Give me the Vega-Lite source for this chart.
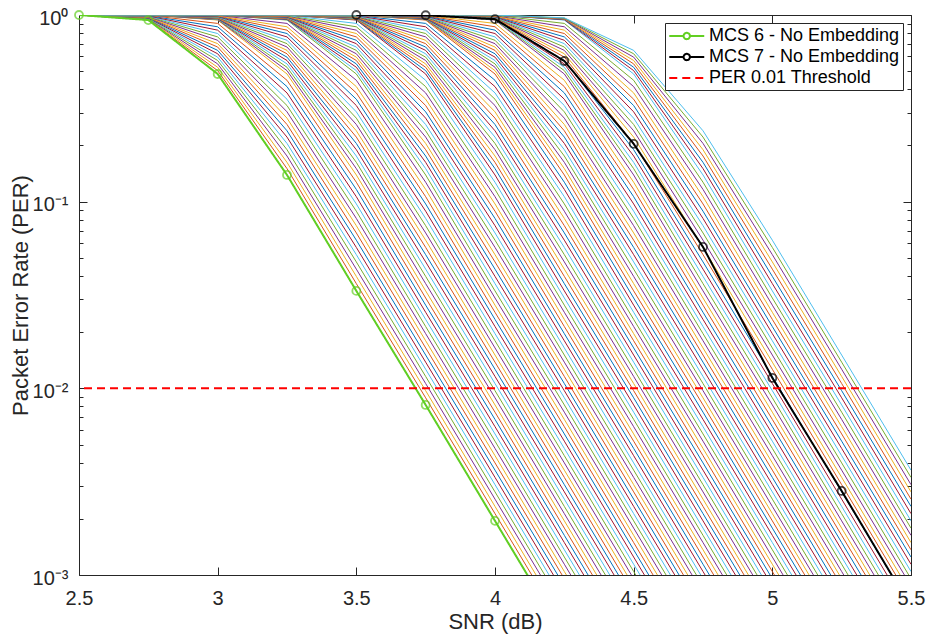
{
"$schema":"https://vega.github.io/schema/vega-lite/v6.json",
"width":832,"height":560,
"autosize":{"type":"none"},
"padding":{"left":79,"top":15,"right":17,"bottom":63},
"background":"#ffffff",
"config":{"view":{"stroke":null},"font":"Liberation Sans","axis":{"grid":false}},
"datasets":{
"fam":[
{"k":0,"x":2.5,"y":1},{"k":0,"x":2.75,"y":0.9397},{"k":0,"x":3,"y":0.4831},{"k":0,"x":3.25,"y":0.139},{"k":0,"x":3.5,"y":0.03327},{"k":0,"x":3.75,"y":0.008147},{"k":0,"x":4,"y":0.00195},{"k":0,"x":4.25,"y":0.0004677},
{"k":1,"x":2.5,"y":1},{"k":1,"x":2.75,"y":0.9434},{"k":1,"x":3,"y":0.5036},{"k":1,"x":3.25,"y":0.1503},{"k":1,"x":3.5,"y":0.03638},{"k":1,"x":3.75,"y":0.008895},{"k":1,"x":4,"y":0.002132},{"k":1,"x":4.25,"y":0.0005114},
{"k":2,"x":2.5,"y":1},{"k":2,"x":2.75,"y":0.9471},{"k":2,"x":3,"y":0.5249},{"k":2,"x":3.25,"y":0.1624},{"k":2,"x":3.5,"y":0.03978},{"k":2,"x":3.75,"y":0.009713},{"k":2,"x":4,"y":0.002331},{"k":2,"x":4.25,"y":0.0005591},
{"k":3,"x":2.5,"y":1},{"k":3,"x":2.75,"y":0.9508},{"k":3,"x":3,"y":0.5472},{"k":3,"x":3.25,"y":0.1756},{"k":3,"x":3.5,"y":0.0435},{"k":3,"x":3.75,"y":0.01061},{"k":3,"x":4,"y":0.002549},{"k":3,"x":4.25,"y":0.0006113},
{"k":4,"x":2.5,"y":1},{"k":4,"x":2.75,"y":0.9545},{"k":4,"x":3,"y":0.5705},{"k":4,"x":3.25,"y":0.1898},{"k":4,"x":3.5,"y":0.04756},{"k":4,"x":3.75,"y":0.01158},{"k":4,"x":4,"y":0.002788},{"k":4,"x":4.25,"y":0.0006683},
{"k":5,"x":2.5,"y":1},{"k":5,"x":2.75,"y":0.9582},{"k":5,"x":3,"y":0.5947},{"k":5,"x":3.25,"y":0.2051},{"k":5,"x":3.5,"y":0.05201},{"k":5,"x":3.75,"y":0.01265},{"k":5,"x":4,"y":0.003048},{"k":5,"x":4.25,"y":0.0007307},
{"k":6,"x":2.5,"y":1},{"k":6,"x":2.75,"y":0.9619},{"k":6,"x":3,"y":0.62},{"k":6,"x":3.25,"y":0.2218},{"k":6,"x":3.5,"y":0.05687},{"k":6,"x":3.75,"y":0.01381},{"k":6,"x":4,"y":0.003333},{"k":6,"x":4.25,"y":0.0007989},
{"k":7,"x":2.5,"y":1},{"k":7,"x":2.75,"y":0.9657},{"k":7,"x":3,"y":0.6463},{"k":7,"x":3.25,"y":0.2397},{"k":7,"x":3.5,"y":0.06219},{"k":7,"x":3.75,"y":0.01508},{"k":7,"x":4,"y":0.003645},{"k":7,"x":4.25,"y":0.0008735},
{"k":8,"x":2.5,"y":1},{"k":8,"x":2.75,"y":0.9694},{"k":8,"x":3,"y":0.6737},{"k":8,"x":3.25,"y":0.2591},{"k":8,"x":3.5,"y":0.068},{"k":8,"x":3.75,"y":0.01646},{"k":8,"x":4,"y":0.003986},{"k":8,"x":4.25,"y":0.000955},
{"k":9,"x":2.5,"y":1},{"k":9,"x":2.75,"y":0.9732},{"k":9,"x":3,"y":0.7023},{"k":9,"x":3.25,"y":0.2801},{"k":9,"x":3.5,"y":0.07436},{"k":9,"x":3.75,"y":0.01798},{"k":9,"x":4,"y":0.004358},{"k":9,"x":4.25,"y":0.001044},{"k":9,"x":4.5,"y":0.0002505},
{"k":10,"x":2.5,"y":1},{"k":10,"x":2.75,"y":0.977},{"k":10,"x":3,"y":0.7322},{"k":10,"x":3.25,"y":0.3028},{"k":10,"x":3.5,"y":0.08131},{"k":10,"x":3.75,"y":0.01963},{"k":10,"x":4,"y":0.004766},{"k":10,"x":4.25,"y":0.001142},{"k":10,"x":4.5,"y":0.0002738},
{"k":11,"x":2.5,"y":1},{"k":11,"x":2.75,"y":0.9808},{"k":11,"x":3,"y":0.7633},{"k":11,"x":3.25,"y":0.3273},{"k":11,"x":3.5,"y":0.08891},{"k":11,"x":3.75,"y":0.02143},{"k":11,"x":4,"y":0.005211},{"k":11,"x":4.25,"y":0.001248},{"k":11,"x":4.5,"y":0.0002994},
{"k":12,"x":2.5,"y":1},{"k":12,"x":2.75,"y":0.9846},{"k":12,"x":3,"y":0.7957},{"k":12,"x":3.25,"y":0.3538},{"k":12,"x":3.5,"y":0.09722},{"k":12,"x":3.75,"y":0.0234},{"k":12,"x":4,"y":0.005698},{"k":12,"x":4.25,"y":0.001365},{"k":12,"x":4.5,"y":0.0003273},
{"k":13,"x":2.5,"y":1},{"k":13,"x":2.75,"y":0.9884},{"k":13,"x":3,"y":0.8295},{"k":13,"x":3.25,"y":0.3824},{"k":13,"x":3.5,"y":0.1063},{"k":13,"x":3.75,"y":0.02555},{"k":13,"x":4,"y":0.006231},{"k":13,"x":4.25,"y":0.001492},{"k":13,"x":4.5,"y":0.0003579},
{"k":14,"x":2.5,"y":1},{"k":14,"x":2.75,"y":0.9923},{"k":14,"x":3,"y":0.8647},{"k":14,"x":3.25,"y":0.4134},{"k":14,"x":3.5,"y":0.1163},{"k":14,"x":3.75,"y":0.0279},{"k":14,"x":4,"y":0.006814},{"k":14,"x":4.25,"y":0.001631},{"k":14,"x":4.5,"y":0.0003913},
{"k":15,"x":2.5,"y":1},{"k":15,"x":2.75,"y":0.9961},{"k":15,"x":3,"y":0.9014},{"k":15,"x":3.25,"y":0.4469},{"k":15,"x":3.5,"y":0.1271},{"k":15,"x":3.75,"y":0.03047},{"k":15,"x":4,"y":0.007451},{"k":15,"x":4.25,"y":0.001783},{"k":15,"x":4.5,"y":0.0004278},
{"k":16,"x":2.5,"y":1},{"k":16,"x":2.75,"y":1},{"k":16,"x":3,"y":0.9397},{"k":16,"x":3.25,"y":0.4831},{"k":16,"x":3.5,"y":0.139},{"k":16,"x":3.75,"y":0.03327},{"k":16,"x":4,"y":0.008147},{"k":16,"x":4.25,"y":0.00195},{"k":16,"x":4.5,"y":0.0004677},
{"k":17,"x":2.5,"y":1},{"k":17,"x":2.75,"y":1},{"k":17,"x":3,"y":0.9434},{"k":17,"x":3.25,"y":0.5036},{"k":17,"x":3.5,"y":0.1503},{"k":17,"x":3.75,"y":0.03638},{"k":17,"x":4,"y":0.008895},{"k":17,"x":4.25,"y":0.002132},{"k":17,"x":4.5,"y":0.0005114},
{"k":18,"x":2.5,"y":1},{"k":18,"x":2.75,"y":1},{"k":18,"x":3,"y":0.9471},{"k":18,"x":3.25,"y":0.5249},{"k":18,"x":3.5,"y":0.1624},{"k":18,"x":3.75,"y":0.03978},{"k":18,"x":4,"y":0.009713},{"k":18,"x":4.25,"y":0.002331},{"k":18,"x":4.5,"y":0.0005591},
{"k":19,"x":2.5,"y":1},{"k":19,"x":2.75,"y":1},{"k":19,"x":3,"y":0.9508},{"k":19,"x":3.25,"y":0.5472},{"k":19,"x":3.5,"y":0.1756},{"k":19,"x":3.75,"y":0.0435},{"k":19,"x":4,"y":0.01061},{"k":19,"x":4.25,"y":0.002549},{"k":19,"x":4.5,"y":0.0006113},
{"k":20,"x":2.5,"y":1},{"k":20,"x":2.75,"y":1},{"k":20,"x":3,"y":0.9545},{"k":20,"x":3.25,"y":0.5705},{"k":20,"x":3.5,"y":0.1898},{"k":20,"x":3.75,"y":0.04756},{"k":20,"x":4,"y":0.01158},{"k":20,"x":4.25,"y":0.002788},{"k":20,"x":4.5,"y":0.0006683},
{"k":21,"x":2.5,"y":1},{"k":21,"x":2.75,"y":1},{"k":21,"x":3,"y":0.9582},{"k":21,"x":3.25,"y":0.5947},{"k":21,"x":3.5,"y":0.2051},{"k":21,"x":3.75,"y":0.05201},{"k":21,"x":4,"y":0.01265},{"k":21,"x":4.25,"y":0.003048},{"k":21,"x":4.5,"y":0.0007307},
{"k":22,"x":2.5,"y":1},{"k":22,"x":2.75,"y":1},{"k":22,"x":3,"y":0.9619},{"k":22,"x":3.25,"y":0.62},{"k":22,"x":3.5,"y":0.2218},{"k":22,"x":3.75,"y":0.05687},{"k":22,"x":4,"y":0.01381},{"k":22,"x":4.25,"y":0.003333},{"k":22,"x":4.5,"y":0.0007989},
{"k":23,"x":2.5,"y":1},{"k":23,"x":2.75,"y":1},{"k":23,"x":3,"y":0.9657},{"k":23,"x":3.25,"y":0.6463},{"k":23,"x":3.5,"y":0.2397},{"k":23,"x":3.75,"y":0.06219},{"k":23,"x":4,"y":0.01508},{"k":23,"x":4.25,"y":0.003645},{"k":23,"x":4.5,"y":0.0008735},
{"k":24,"x":2.5,"y":1},{"k":24,"x":2.75,"y":1},{"k":24,"x":3,"y":0.9694},{"k":24,"x":3.25,"y":0.6737},{"k":24,"x":3.5,"y":0.2591},{"k":24,"x":3.75,"y":0.068},{"k":24,"x":4,"y":0.01646},{"k":24,"x":4.25,"y":0.003986},{"k":24,"x":4.5,"y":0.000955},
{"k":25,"x":2.5,"y":1},{"k":25,"x":2.75,"y":1},{"k":25,"x":3,"y":0.9732},{"k":25,"x":3.25,"y":0.7023},{"k":25,"x":3.5,"y":0.2801},{"k":25,"x":3.75,"y":0.07436},{"k":25,"x":4,"y":0.01798},{"k":25,"x":4.25,"y":0.004358},{"k":25,"x":4.5,"y":0.001044},{"k":25,"x":4.75,"y":0.0002505},
{"k":26,"x":2.5,"y":1},{"k":26,"x":2.75,"y":1},{"k":26,"x":3,"y":0.977},{"k":26,"x":3.25,"y":0.7322},{"k":26,"x":3.5,"y":0.3028},{"k":26,"x":3.75,"y":0.08131},{"k":26,"x":4,"y":0.01963},{"k":26,"x":4.25,"y":0.004766},{"k":26,"x":4.5,"y":0.001142},{"k":26,"x":4.75,"y":0.0002738},
{"k":27,"x":2.5,"y":1},{"k":27,"x":2.75,"y":1},{"k":27,"x":3,"y":0.9808},{"k":27,"x":3.25,"y":0.7633},{"k":27,"x":3.5,"y":0.3273},{"k":27,"x":3.75,"y":0.08891},{"k":27,"x":4,"y":0.02143},{"k":27,"x":4.25,"y":0.005211},{"k":27,"x":4.5,"y":0.001248},{"k":27,"x":4.75,"y":0.0002994},
{"k":28,"x":2.5,"y":1},{"k":28,"x":2.75,"y":1},{"k":28,"x":3,"y":0.9846},{"k":28,"x":3.25,"y":0.7957},{"k":28,"x":3.5,"y":0.3538},{"k":28,"x":3.75,"y":0.09722},{"k":28,"x":4,"y":0.0234},{"k":28,"x":4.25,"y":0.005698},{"k":28,"x":4.5,"y":0.001365},{"k":28,"x":4.75,"y":0.0003273},
{"k":29,"x":2.5,"y":1},{"k":29,"x":2.75,"y":1},{"k":29,"x":3,"y":0.9884},{"k":29,"x":3.25,"y":0.8295},{"k":29,"x":3.5,"y":0.3824},{"k":29,"x":3.75,"y":0.1063},{"k":29,"x":4,"y":0.02555},{"k":29,"x":4.25,"y":0.006231},{"k":29,"x":4.5,"y":0.001492},{"k":29,"x":4.75,"y":0.0003579},
{"k":30,"x":2.5,"y":1},{"k":30,"x":2.75,"y":1},{"k":30,"x":3,"y":0.9923},{"k":30,"x":3.25,"y":0.8647},{"k":30,"x":3.5,"y":0.4134},{"k":30,"x":3.75,"y":0.1163},{"k":30,"x":4,"y":0.0279},{"k":30,"x":4.25,"y":0.006814},{"k":30,"x":4.5,"y":0.001631},{"k":30,"x":4.75,"y":0.0003913},
{"k":31,"x":2.5,"y":1},{"k":31,"x":2.75,"y":1},{"k":31,"x":3,"y":0.9961},{"k":31,"x":3.25,"y":0.9014},{"k":31,"x":3.5,"y":0.4469},{"k":31,"x":3.75,"y":0.1271},{"k":31,"x":4,"y":0.03047},{"k":31,"x":4.25,"y":0.007451},{"k":31,"x":4.5,"y":0.001783},{"k":31,"x":4.75,"y":0.0004278},
{"k":32,"x":2.5,"y":1},{"k":32,"x":3,"y":1},{"k":32,"x":3.25,"y":0.9397},{"k":32,"x":3.5,"y":0.4831},{"k":32,"x":3.75,"y":0.139},{"k":32,"x":4,"y":0.03327},{"k":32,"x":4.25,"y":0.008147},{"k":32,"x":4.5,"y":0.00195},{"k":32,"x":4.75,"y":0.0004677},
{"k":33,"x":2.5,"y":1},{"k":33,"x":3,"y":1},{"k":33,"x":3.25,"y":0.9434},{"k":33,"x":3.5,"y":0.5036},{"k":33,"x":3.75,"y":0.1503},{"k":33,"x":4,"y":0.03638},{"k":33,"x":4.25,"y":0.008895},{"k":33,"x":4.5,"y":0.002132},{"k":33,"x":4.75,"y":0.0005114},
{"k":34,"x":2.5,"y":1},{"k":34,"x":3,"y":1},{"k":34,"x":3.25,"y":0.9471},{"k":34,"x":3.5,"y":0.5249},{"k":34,"x":3.75,"y":0.1624},{"k":34,"x":4,"y":0.03978},{"k":34,"x":4.25,"y":0.009713},{"k":34,"x":4.5,"y":0.002331},{"k":34,"x":4.75,"y":0.0005591},
{"k":35,"x":2.5,"y":1},{"k":35,"x":3,"y":1},{"k":35,"x":3.25,"y":0.9508},{"k":35,"x":3.5,"y":0.5472},{"k":35,"x":3.75,"y":0.1756},{"k":35,"x":4,"y":0.0435},{"k":35,"x":4.25,"y":0.01061},{"k":35,"x":4.5,"y":0.002549},{"k":35,"x":4.75,"y":0.0006113},
{"k":36,"x":2.5,"y":1},{"k":36,"x":3,"y":1},{"k":36,"x":3.25,"y":0.9545},{"k":36,"x":3.5,"y":0.5705},{"k":36,"x":3.75,"y":0.1898},{"k":36,"x":4,"y":0.04756},{"k":36,"x":4.25,"y":0.01158},{"k":36,"x":4.5,"y":0.002788},{"k":36,"x":4.75,"y":0.0006683},
{"k":37,"x":2.5,"y":1},{"k":37,"x":3,"y":1},{"k":37,"x":3.25,"y":0.9582},{"k":37,"x":3.5,"y":0.5947},{"k":37,"x":3.75,"y":0.2051},{"k":37,"x":4,"y":0.05201},{"k":37,"x":4.25,"y":0.01265},{"k":37,"x":4.5,"y":0.003048},{"k":37,"x":4.75,"y":0.0007307},
{"k":38,"x":2.5,"y":1},{"k":38,"x":3,"y":1},{"k":38,"x":3.25,"y":0.9619},{"k":38,"x":3.5,"y":0.62},{"k":38,"x":3.75,"y":0.2218},{"k":38,"x":4,"y":0.05687},{"k":38,"x":4.25,"y":0.01381},{"k":38,"x":4.5,"y":0.003333},{"k":38,"x":4.75,"y":0.0007989},
{"k":39,"x":2.5,"y":1},{"k":39,"x":3,"y":1},{"k":39,"x":3.25,"y":0.9657},{"k":39,"x":3.5,"y":0.6463},{"k":39,"x":3.75,"y":0.2397},{"k":39,"x":4,"y":0.06219},{"k":39,"x":4.25,"y":0.01508},{"k":39,"x":4.5,"y":0.003645},{"k":39,"x":4.75,"y":0.0008735},
{"k":40,"x":2.5,"y":1},{"k":40,"x":3,"y":1},{"k":40,"x":3.25,"y":0.9694},{"k":40,"x":3.5,"y":0.6737},{"k":40,"x":3.75,"y":0.2591},{"k":40,"x":4,"y":0.068},{"k":40,"x":4.25,"y":0.01646},{"k":40,"x":4.5,"y":0.003986},{"k":40,"x":4.75,"y":0.000955},
{"k":41,"x":2.5,"y":1},{"k":41,"x":3,"y":1},{"k":41,"x":3.25,"y":0.9732},{"k":41,"x":3.5,"y":0.7023},{"k":41,"x":3.75,"y":0.2801},{"k":41,"x":4,"y":0.07436},{"k":41,"x":4.25,"y":0.01798},{"k":41,"x":4.5,"y":0.004358},{"k":41,"x":4.75,"y":0.001044},{"k":41,"x":5,"y":0.0002505},
{"k":42,"x":2.5,"y":1},{"k":42,"x":3,"y":1},{"k":42,"x":3.25,"y":0.977},{"k":42,"x":3.5,"y":0.7322},{"k":42,"x":3.75,"y":0.3028},{"k":42,"x":4,"y":0.08131},{"k":42,"x":4.25,"y":0.01963},{"k":42,"x":4.5,"y":0.004766},{"k":42,"x":4.75,"y":0.001142},{"k":42,"x":5,"y":0.0002738},
{"k":43,"x":2.5,"y":1},{"k":43,"x":3,"y":1},{"k":43,"x":3.25,"y":0.9808},{"k":43,"x":3.5,"y":0.7633},{"k":43,"x":3.75,"y":0.3273},{"k":43,"x":4,"y":0.08891},{"k":43,"x":4.25,"y":0.02143},{"k":43,"x":4.5,"y":0.005211},{"k":43,"x":4.75,"y":0.001248},{"k":43,"x":5,"y":0.0002994},
{"k":44,"x":2.5,"y":1},{"k":44,"x":3,"y":1},{"k":44,"x":3.25,"y":0.9846},{"k":44,"x":3.5,"y":0.7957},{"k":44,"x":3.75,"y":0.3538},{"k":44,"x":4,"y":0.09722},{"k":44,"x":4.25,"y":0.0234},{"k":44,"x":4.5,"y":0.005698},{"k":44,"x":4.75,"y":0.001365},{"k":44,"x":5,"y":0.0003273},
{"k":45,"x":2.5,"y":1},{"k":45,"x":3,"y":1},{"k":45,"x":3.25,"y":0.9884},{"k":45,"x":3.5,"y":0.8295},{"k":45,"x":3.75,"y":0.3824},{"k":45,"x":4,"y":0.1063},{"k":45,"x":4.25,"y":0.02555},{"k":45,"x":4.5,"y":0.006231},{"k":45,"x":4.75,"y":0.001492},{"k":45,"x":5,"y":0.0003579},
{"k":46,"x":2.5,"y":1},{"k":46,"x":3,"y":1},{"k":46,"x":3.25,"y":0.9923},{"k":46,"x":3.5,"y":0.8647},{"k":46,"x":3.75,"y":0.4134},{"k":46,"x":4,"y":0.1163},{"k":46,"x":4.25,"y":0.0279},{"k":46,"x":4.5,"y":0.006814},{"k":46,"x":4.75,"y":0.001631},{"k":46,"x":5,"y":0.0003913},
{"k":47,"x":2.5,"y":1},{"k":47,"x":3,"y":1},{"k":47,"x":3.25,"y":0.9961},{"k":47,"x":3.5,"y":0.9014},{"k":47,"x":3.75,"y":0.4469},{"k":47,"x":4,"y":0.1271},{"k":47,"x":4.25,"y":0.03047},{"k":47,"x":4.5,"y":0.007451},{"k":47,"x":4.75,"y":0.001783},{"k":47,"x":5,"y":0.0004278},
{"k":48,"x":2.5,"y":1},{"k":48,"x":3.25,"y":1},{"k":48,"x":3.5,"y":0.9397},{"k":48,"x":3.75,"y":0.4831},{"k":48,"x":4,"y":0.139},{"k":48,"x":4.25,"y":0.03327},{"k":48,"x":4.5,"y":0.008147},{"k":48,"x":4.75,"y":0.00195},{"k":48,"x":5,"y":0.0004677},
{"k":49,"x":2.5,"y":1},{"k":49,"x":3.25,"y":1},{"k":49,"x":3.5,"y":0.9434},{"k":49,"x":3.75,"y":0.5036},{"k":49,"x":4,"y":0.1503},{"k":49,"x":4.25,"y":0.03638},{"k":49,"x":4.5,"y":0.008895},{"k":49,"x":4.75,"y":0.002132},{"k":49,"x":5,"y":0.0005114},
{"k":50,"x":2.5,"y":1},{"k":50,"x":3.25,"y":1},{"k":50,"x":3.5,"y":0.9471},{"k":50,"x":3.75,"y":0.5249},{"k":50,"x":4,"y":0.1624},{"k":50,"x":4.25,"y":0.03978},{"k":50,"x":4.5,"y":0.009713},{"k":50,"x":4.75,"y":0.002331},{"k":50,"x":5,"y":0.0005591},
{"k":51,"x":2.5,"y":1},{"k":51,"x":3.25,"y":1},{"k":51,"x":3.5,"y":0.9508},{"k":51,"x":3.75,"y":0.5472},{"k":51,"x":4,"y":0.1756},{"k":51,"x":4.25,"y":0.0435},{"k":51,"x":4.5,"y":0.01061},{"k":51,"x":4.75,"y":0.002549},{"k":51,"x":5,"y":0.0006113},
{"k":52,"x":2.5,"y":1},{"k":52,"x":3.25,"y":1},{"k":52,"x":3.5,"y":0.9545},{"k":52,"x":3.75,"y":0.5705},{"k":52,"x":4,"y":0.1898},{"k":52,"x":4.25,"y":0.04756},{"k":52,"x":4.5,"y":0.01158},{"k":52,"x":4.75,"y":0.002788},{"k":52,"x":5,"y":0.0006683},
{"k":53,"x":2.5,"y":1},{"k":53,"x":3.25,"y":1},{"k":53,"x":3.5,"y":0.9582},{"k":53,"x":3.75,"y":0.5947},{"k":53,"x":4,"y":0.2051},{"k":53,"x":4.25,"y":0.05201},{"k":53,"x":4.5,"y":0.01265},{"k":53,"x":4.75,"y":0.003048},{"k":53,"x":5,"y":0.0007307},
{"k":54,"x":2.5,"y":1},{"k":54,"x":3.25,"y":1},{"k":54,"x":3.5,"y":0.9619},{"k":54,"x":3.75,"y":0.62},{"k":54,"x":4,"y":0.2218},{"k":54,"x":4.25,"y":0.05687},{"k":54,"x":4.5,"y":0.01381},{"k":54,"x":4.75,"y":0.003333},{"k":54,"x":5,"y":0.0007989},
{"k":55,"x":2.5,"y":1},{"k":55,"x":3.25,"y":1},{"k":55,"x":3.5,"y":0.9657},{"k":55,"x":3.75,"y":0.6463},{"k":55,"x":4,"y":0.2397},{"k":55,"x":4.25,"y":0.06219},{"k":55,"x":4.5,"y":0.01508},{"k":55,"x":4.75,"y":0.003645},{"k":55,"x":5,"y":0.0008735},
{"k":56,"x":2.5,"y":1},{"k":56,"x":3.25,"y":1},{"k":56,"x":3.5,"y":0.9694},{"k":56,"x":3.75,"y":0.6737},{"k":56,"x":4,"y":0.2591},{"k":56,"x":4.25,"y":0.068},{"k":56,"x":4.5,"y":0.01646},{"k":56,"x":4.75,"y":0.003986},{"k":56,"x":5,"y":0.000955},
{"k":57,"x":2.5,"y":1},{"k":57,"x":3.25,"y":1},{"k":57,"x":3.5,"y":0.9732},{"k":57,"x":3.75,"y":0.7023},{"k":57,"x":4,"y":0.2801},{"k":57,"x":4.25,"y":0.07436},{"k":57,"x":4.5,"y":0.01798},{"k":57,"x":4.75,"y":0.004358},{"k":57,"x":5,"y":0.001044},{"k":57,"x":5.25,"y":0.0002505},
{"k":58,"x":2.5,"y":1},{"k":58,"x":3.25,"y":1},{"k":58,"x":3.5,"y":0.977},{"k":58,"x":3.75,"y":0.7322},{"k":58,"x":4,"y":0.3028},{"k":58,"x":4.25,"y":0.08131},{"k":58,"x":4.5,"y":0.01963},{"k":58,"x":4.75,"y":0.004766},{"k":58,"x":5,"y":0.001142},{"k":58,"x":5.25,"y":0.0002738},
{"k":59,"x":2.5,"y":1},{"k":59,"x":3.25,"y":1},{"k":59,"x":3.5,"y":0.9808},{"k":59,"x":3.75,"y":0.7633},{"k":59,"x":4,"y":0.3273},{"k":59,"x":4.25,"y":0.08891},{"k":59,"x":4.5,"y":0.02143},{"k":59,"x":4.75,"y":0.005211},{"k":59,"x":5,"y":0.001248},{"k":59,"x":5.25,"y":0.0002994},
{"k":60,"x":2.5,"y":1},{"k":60,"x":3.25,"y":1},{"k":60,"x":3.5,"y":0.9846},{"k":60,"x":3.75,"y":0.7957},{"k":60,"x":4,"y":0.3538},{"k":60,"x":4.25,"y":0.09722},{"k":60,"x":4.5,"y":0.0234},{"k":60,"x":4.75,"y":0.005698},{"k":60,"x":5,"y":0.001365},{"k":60,"x":5.25,"y":0.0003273},
{"k":61,"x":2.5,"y":1},{"k":61,"x":3.25,"y":1},{"k":61,"x":3.5,"y":0.9884},{"k":61,"x":3.75,"y":0.8295},{"k":61,"x":4,"y":0.3824},{"k":61,"x":4.25,"y":0.1063},{"k":61,"x":4.5,"y":0.02555},{"k":61,"x":4.75,"y":0.006231},{"k":61,"x":5,"y":0.001492},{"k":61,"x":5.25,"y":0.0003579},
{"k":62,"x":2.5,"y":1},{"k":62,"x":3.25,"y":1},{"k":62,"x":3.5,"y":0.9923},{"k":62,"x":3.75,"y":0.8647},{"k":62,"x":4,"y":0.4134},{"k":62,"x":4.25,"y":0.1163},{"k":62,"x":4.5,"y":0.0279},{"k":62,"x":4.75,"y":0.006814},{"k":62,"x":5,"y":0.001631},{"k":62,"x":5.25,"y":0.0003913},
{"k":63,"x":2.5,"y":1},{"k":63,"x":3.25,"y":1},{"k":63,"x":3.5,"y":0.9961},{"k":63,"x":3.75,"y":0.9014},{"k":63,"x":4,"y":0.4469},{"k":63,"x":4.25,"y":0.1271},{"k":63,"x":4.5,"y":0.03047},{"k":63,"x":4.75,"y":0.007451},{"k":63,"x":5,"y":0.001783},{"k":63,"x":5.25,"y":0.0004278},
{"k":64,"x":2.5,"y":1},{"k":64,"x":3.5,"y":1},{"k":64,"x":3.75,"y":0.9397},{"k":64,"x":4,"y":0.4831},{"k":64,"x":4.25,"y":0.139},{"k":64,"x":4.5,"y":0.03327},{"k":64,"x":4.75,"y":0.008147},{"k":64,"x":5,"y":0.00195},{"k":64,"x":5.25,"y":0.0004677},
{"k":65,"x":2.5,"y":1},{"k":65,"x":3.5,"y":1},{"k":65,"x":3.75,"y":0.9434},{"k":65,"x":4,"y":0.5036},{"k":65,"x":4.25,"y":0.1503},{"k":65,"x":4.5,"y":0.03638},{"k":65,"x":4.75,"y":0.008895},{"k":65,"x":5,"y":0.002132},{"k":65,"x":5.25,"y":0.0005114},
{"k":66,"x":2.5,"y":1},{"k":66,"x":3.5,"y":1},{"k":66,"x":3.75,"y":0.9471},{"k":66,"x":4,"y":0.5249},{"k":66,"x":4.25,"y":0.1624},{"k":66,"x":4.5,"y":0.03978},{"k":66,"x":4.75,"y":0.009713},{"k":66,"x":5,"y":0.002331},{"k":66,"x":5.25,"y":0.0005591},
{"k":67,"x":2.5,"y":1},{"k":67,"x":3.5,"y":1},{"k":67,"x":3.75,"y":0.9508},{"k":67,"x":4,"y":0.5472},{"k":67,"x":4.25,"y":0.1756},{"k":67,"x":4.5,"y":0.0435},{"k":67,"x":4.75,"y":0.01061},{"k":67,"x":5,"y":0.002549},{"k":67,"x":5.25,"y":0.0006113},
{"k":68,"x":2.5,"y":1},{"k":68,"x":3.5,"y":1},{"k":68,"x":3.75,"y":0.9545},{"k":68,"x":4,"y":0.5705},{"k":68,"x":4.25,"y":0.1898},{"k":68,"x":4.5,"y":0.04756},{"k":68,"x":4.75,"y":0.01158},{"k":68,"x":5,"y":0.002788},{"k":68,"x":5.25,"y":0.0006683},
{"k":69,"x":2.5,"y":1},{"k":69,"x":3.5,"y":1},{"k":69,"x":3.75,"y":0.9582},{"k":69,"x":4,"y":0.5947},{"k":69,"x":4.25,"y":0.2051},{"k":69,"x":4.5,"y":0.05201},{"k":69,"x":4.75,"y":0.01265},{"k":69,"x":5,"y":0.003048},{"k":69,"x":5.25,"y":0.0007307},
{"k":70,"x":2.5,"y":1},{"k":70,"x":3.5,"y":1},{"k":70,"x":3.75,"y":0.9619},{"k":70,"x":4,"y":0.62},{"k":70,"x":4.25,"y":0.2218},{"k":70,"x":4.5,"y":0.05687},{"k":70,"x":4.75,"y":0.01381},{"k":70,"x":5,"y":0.003333},{"k":70,"x":5.25,"y":0.0007989},
{"k":71,"x":2.5,"y":1},{"k":71,"x":3.5,"y":1},{"k":71,"x":3.75,"y":0.9657},{"k":71,"x":4,"y":0.6463},{"k":71,"x":4.25,"y":0.2397},{"k":71,"x":4.5,"y":0.06219},{"k":71,"x":4.75,"y":0.01508},{"k":71,"x":5,"y":0.003645},{"k":71,"x":5.25,"y":0.0008735},
{"k":72,"x":2.5,"y":1},{"k":72,"x":3.5,"y":1},{"k":72,"x":3.75,"y":0.9694},{"k":72,"x":4,"y":0.6737},{"k":72,"x":4.25,"y":0.2591},{"k":72,"x":4.5,"y":0.068},{"k":72,"x":4.75,"y":0.01646},{"k":72,"x":5,"y":0.003986},{"k":72,"x":5.25,"y":0.000955},
{"k":73,"x":2.5,"y":1},{"k":73,"x":3.5,"y":1},{"k":73,"x":3.75,"y":0.9732},{"k":73,"x":4,"y":0.7023},{"k":73,"x":4.25,"y":0.2801},{"k":73,"x":4.5,"y":0.07436},{"k":73,"x":4.75,"y":0.01798},{"k":73,"x":5,"y":0.004358},{"k":73,"x":5.25,"y":0.001044},{"k":73,"x":5.5,"y":0.0002505},
{"k":74,"x":2.5,"y":1},{"k":74,"x":3.5,"y":1},{"k":74,"x":3.75,"y":0.977},{"k":74,"x":4,"y":0.7322},{"k":74,"x":4.25,"y":0.3028},{"k":74,"x":4.5,"y":0.08131},{"k":74,"x":4.75,"y":0.01963},{"k":74,"x":5,"y":0.004766},{"k":74,"x":5.25,"y":0.001142},{"k":74,"x":5.5,"y":0.0002738},
{"k":75,"x":2.5,"y":1},{"k":75,"x":3.5,"y":1},{"k":75,"x":3.75,"y":0.9808},{"k":75,"x":4,"y":0.7633},{"k":75,"x":4.25,"y":0.3273},{"k":75,"x":4.5,"y":0.08891},{"k":75,"x":4.75,"y":0.02143},{"k":75,"x":5,"y":0.005211},{"k":75,"x":5.25,"y":0.001248},{"k":75,"x":5.5,"y":0.0002994},
{"k":76,"x":2.5,"y":1},{"k":76,"x":3.5,"y":1},{"k":76,"x":3.75,"y":0.9846},{"k":76,"x":4,"y":0.7957},{"k":76,"x":4.25,"y":0.3538},{"k":76,"x":4.5,"y":0.09722},{"k":76,"x":4.75,"y":0.0234},{"k":76,"x":5,"y":0.005698},{"k":76,"x":5.25,"y":0.001365},{"k":76,"x":5.5,"y":0.0003273},
{"k":77,"x":2.5,"y":1},{"k":77,"x":3.5,"y":1},{"k":77,"x":3.75,"y":0.9884},{"k":77,"x":4,"y":0.8295},{"k":77,"x":4.25,"y":0.3824},{"k":77,"x":4.5,"y":0.1063},{"k":77,"x":4.75,"y":0.02555},{"k":77,"x":5,"y":0.006231},{"k":77,"x":5.25,"y":0.001492},{"k":77,"x":5.5,"y":0.0003579},
{"k":78,"x":2.5,"y":1},{"k":78,"x":3.5,"y":1},{"k":78,"x":3.75,"y":0.9923},{"k":78,"x":4,"y":0.8647},{"k":78,"x":4.25,"y":0.4134},{"k":78,"x":4.5,"y":0.1163},{"k":78,"x":4.75,"y":0.0279},{"k":78,"x":5,"y":0.006814},{"k":78,"x":5.25,"y":0.001631},{"k":78,"x":5.5,"y":0.0003913},
{"k":79,"x":2.5,"y":1},{"k":79,"x":3.5,"y":1},{"k":79,"x":3.75,"y":0.9961},{"k":79,"x":4,"y":0.9014},{"k":79,"x":4.25,"y":0.4469},{"k":79,"x":4.5,"y":0.1271},{"k":79,"x":4.75,"y":0.03047},{"k":79,"x":5,"y":0.007451},{"k":79,"x":5.25,"y":0.001783},{"k":79,"x":5.5,"y":0.0004278},
{"k":80,"x":2.5,"y":1},{"k":80,"x":3.75,"y":1},{"k":80,"x":4,"y":0.9397},{"k":80,"x":4.25,"y":0.4831},{"k":80,"x":4.5,"y":0.139},{"k":80,"x":4.75,"y":0.03327},{"k":80,"x":5,"y":0.008147},{"k":80,"x":5.25,"y":0.00195},{"k":80,"x":5.5,"y":0.0004677},
{"k":81,"x":2.5,"y":1},{"k":81,"x":3.75,"y":1},{"k":81,"x":4,"y":0.9434},{"k":81,"x":4.25,"y":0.5036},{"k":81,"x":4.5,"y":0.1503},{"k":81,"x":4.75,"y":0.03638},{"k":81,"x":5,"y":0.008895},{"k":81,"x":5.25,"y":0.002132},{"k":81,"x":5.5,"y":0.0005114},
{"k":82,"x":2.5,"y":1},{"k":82,"x":3.75,"y":1},{"k":82,"x":4,"y":0.9471},{"k":82,"x":4.25,"y":0.5249},{"k":82,"x":4.5,"y":0.1624},{"k":82,"x":4.75,"y":0.03978},{"k":82,"x":5,"y":0.009713},{"k":82,"x":5.25,"y":0.002331},{"k":82,"x":5.5,"y":0.0005591},
{"k":83,"x":2.5,"y":1},{"k":83,"x":3.75,"y":1},{"k":83,"x":4,"y":0.9508},{"k":83,"x":4.25,"y":0.5472},{"k":83,"x":4.5,"y":0.1756},{"k":83,"x":4.75,"y":0.0435},{"k":83,"x":5,"y":0.01061},{"k":83,"x":5.25,"y":0.002549},{"k":83,"x":5.5,"y":0.0006113},
{"k":84,"x":2.5,"y":1},{"k":84,"x":3.75,"y":1},{"k":84,"x":4,"y":0.9545},{"k":84,"x":4.25,"y":0.5705},{"k":84,"x":4.5,"y":0.1898},{"k":84,"x":4.75,"y":0.04756},{"k":84,"x":5,"y":0.01158},{"k":84,"x":5.25,"y":0.002788},{"k":84,"x":5.5,"y":0.0006683},
{"k":85,"x":2.5,"y":1},{"k":85,"x":3.75,"y":1},{"k":85,"x":4,"y":0.9582},{"k":85,"x":4.25,"y":0.5947},{"k":85,"x":4.5,"y":0.2051},{"k":85,"x":4.75,"y":0.05201},{"k":85,"x":5,"y":0.01265},{"k":85,"x":5.25,"y":0.003048},{"k":85,"x":5.5,"y":0.0007307},
{"k":86,"x":2.5,"y":1},{"k":86,"x":3.75,"y":1},{"k":86,"x":4,"y":0.9619},{"k":86,"x":4.25,"y":0.62},{"k":86,"x":4.5,"y":0.2218},{"k":86,"x":4.75,"y":0.05687},{"k":86,"x":5,"y":0.01381},{"k":86,"x":5.25,"y":0.003333},{"k":86,"x":5.5,"y":0.0007989},
{"k":87,"x":2.5,"y":1},{"k":87,"x":3.75,"y":1},{"k":87,"x":4,"y":0.9657},{"k":87,"x":4.25,"y":0.6463},{"k":87,"x":4.5,"y":0.2397},{"k":87,"x":4.75,"y":0.06219},{"k":87,"x":5,"y":0.01508},{"k":87,"x":5.25,"y":0.003645},{"k":87,"x":5.5,"y":0.0008735},
{"k":88,"x":2.5,"y":1},{"k":88,"x":3.75,"y":1},{"k":88,"x":4,"y":0.9694},{"k":88,"x":4.25,"y":0.6737},{"k":88,"x":4.5,"y":0.2591},{"k":88,"x":4.75,"y":0.068},{"k":88,"x":5,"y":0.01646},{"k":88,"x":5.25,"y":0.003986},{"k":88,"x":5.5,"y":0.000955},
{"k":89,"x":2.5,"y":1},{"k":89,"x":3.75,"y":1},{"k":89,"x":4,"y":0.9732},{"k":89,"x":4.25,"y":0.7023},{"k":89,"x":4.5,"y":0.2801},{"k":89,"x":4.75,"y":0.07436},{"k":89,"x":5,"y":0.01798},{"k":89,"x":5.25,"y":0.004358},{"k":89,"x":5.5,"y":0.001044},
{"k":90,"x":2.5,"y":1},{"k":90,"x":3.75,"y":1},{"k":90,"x":4,"y":0.977},{"k":90,"x":4.25,"y":0.7322},{"k":90,"x":4.5,"y":0.3028},{"k":90,"x":4.75,"y":0.08131},{"k":90,"x":5,"y":0.01963},{"k":90,"x":5.25,"y":0.004766},{"k":90,"x":5.5,"y":0.001142},
{"k":91,"x":2.5,"y":1},{"k":91,"x":3.75,"y":1},{"k":91,"x":4,"y":0.9808},{"k":91,"x":4.25,"y":0.7633},{"k":91,"x":4.5,"y":0.3273},{"k":91,"x":4.75,"y":0.08891},{"k":91,"x":5,"y":0.02143},{"k":91,"x":5.25,"y":0.005211},{"k":91,"x":5.5,"y":0.001248},
{"k":92,"x":2.5,"y":1},{"k":92,"x":3.75,"y":1},{"k":92,"x":4,"y":0.9846},{"k":92,"x":4.25,"y":0.7957},{"k":92,"x":4.5,"y":0.3538},{"k":92,"x":4.75,"y":0.09722},{"k":92,"x":5,"y":0.0234},{"k":92,"x":5.25,"y":0.005698},{"k":92,"x":5.5,"y":0.001365},
{"k":93,"x":2.5,"y":1},{"k":93,"x":3.75,"y":1},{"k":93,"x":4,"y":0.9884},{"k":93,"x":4.25,"y":0.8295},{"k":93,"x":4.5,"y":0.3824},{"k":93,"x":4.75,"y":0.1063},{"k":93,"x":5,"y":0.02555},{"k":93,"x":5.25,"y":0.006231},{"k":93,"x":5.5,"y":0.001492},
{"k":94,"x":2.5,"y":1},{"k":94,"x":3.75,"y":1},{"k":94,"x":4,"y":0.9923},{"k":94,"x":4.25,"y":0.8647},{"k":94,"x":4.5,"y":0.4134},{"k":94,"x":4.75,"y":0.1163},{"k":94,"x":5,"y":0.0279},{"k":94,"x":5.25,"y":0.006814},{"k":94,"x":5.5,"y":0.001631},
{"k":95,"x":2.5,"y":1},{"k":95,"x":3.75,"y":1},{"k":95,"x":4,"y":0.9961},{"k":95,"x":4.25,"y":0.9014},{"k":95,"x":4.5,"y":0.4469},{"k":95,"x":4.75,"y":0.1271},{"k":95,"x":5,"y":0.03047},{"k":95,"x":5.25,"y":0.007451},{"k":95,"x":5.5,"y":0.001783},
{"k":96,"x":2.5,"y":1},{"k":96,"x":4,"y":1},{"k":96,"x":4.25,"y":0.9397},{"k":96,"x":4.5,"y":0.4831},{"k":96,"x":4.75,"y":0.139},{"k":96,"x":5,"y":0.03327},{"k":96,"x":5.25,"y":0.008147},{"k":96,"x":5.5,"y":0.00195},
{"k":97,"x":2.5,"y":1},{"k":97,"x":4,"y":1},{"k":97,"x":4.25,"y":0.9434},{"k":97,"x":4.5,"y":0.5036},{"k":97,"x":4.75,"y":0.1503},{"k":97,"x":5,"y":0.03638},{"k":97,"x":5.25,"y":0.008895},{"k":97,"x":5.5,"y":0.002132},
{"k":98,"x":2.5,"y":1},{"k":98,"x":4,"y":1},{"k":98,"x":4.25,"y":0.9471},{"k":98,"x":4.5,"y":0.5249},{"k":98,"x":4.75,"y":0.1624},{"k":98,"x":5,"y":0.03978},{"k":98,"x":5.25,"y":0.009713},{"k":98,"x":5.5,"y":0.002331},
{"k":99,"x":2.5,"y":1},{"k":99,"x":4,"y":1},{"k":99,"x":4.25,"y":0.9508},{"k":99,"x":4.5,"y":0.5472},{"k":99,"x":4.75,"y":0.1756},{"k":99,"x":5,"y":0.0435},{"k":99,"x":5.25,"y":0.01061},{"k":99,"x":5.5,"y":0.002549},
{"k":100,"x":2.5,"y":1},{"k":100,"x":4,"y":1},{"k":100,"x":4.25,"y":0.9545},{"k":100,"x":4.5,"y":0.5705},{"k":100,"x":4.75,"y":0.1898},{"k":100,"x":5,"y":0.04756},{"k":100,"x":5.25,"y":0.01158},{"k":100,"x":5.5,"y":0.002788},
{"k":101,"x":2.5,"y":1},{"k":101,"x":4,"y":1},{"k":101,"x":4.25,"y":0.9582},{"k":101,"x":4.5,"y":0.5947},{"k":101,"x":4.75,"y":0.2051},{"k":101,"x":5,"y":0.05201},{"k":101,"x":5.25,"y":0.01265},{"k":101,"x":5.5,"y":0.003048},
{"k":102,"x":2.5,"y":1},{"k":102,"x":4,"y":1},{"k":102,"x":4.25,"y":0.9619},{"k":102,"x":4.5,"y":0.62},{"k":102,"x":4.75,"y":0.2218},{"k":102,"x":5,"y":0.05687},{"k":102,"x":5.25,"y":0.01381},{"k":102,"x":5.5,"y":0.003333},
{"k":103,"x":2.5,"y":1},{"k":103,"x":4,"y":1},{"k":103,"x":4.25,"y":0.9657},{"k":103,"x":4.5,"y":0.6463},{"k":103,"x":4.75,"y":0.2397},{"k":103,"x":5,"y":0.06219},{"k":103,"x":5.25,"y":0.01508},{"k":103,"x":5.5,"y":0.003645}
],
"hl":[
{"s":"MCS 6 - No Embedding","x":2.5,"y":1},{"s":"MCS 6 - No Embedding","x":2.75,"y":0.9397},{"s":"MCS 6 - No Embedding","x":3,"y":0.4831},{"s":"MCS 6 - No Embedding","x":3.25,"y":0.139},{"s":"MCS 6 - No Embedding","x":3.5,"y":0.03327},{"s":"MCS 6 - No Embedding","x":3.75,"y":0.008147},{"s":"MCS 6 - No Embedding","x":4,"y":0.00195},{"s":"MCS 6 - No Embedding","x":4.25,"y":0.0004677},
{"s":"MCS 7 - No Embedding","x":3.5,"y":1},{"s":"MCS 7 - No Embedding","x":3.75,"y":0.997},{"s":"MCS 7 - No Embedding","x":4,"y":0.95},{"s":"MCS 7 - No Embedding","x":4.25,"y":0.567},{"s":"MCS 7 - No Embedding","x":4.5,"y":0.204},{"s":"MCS 7 - No Embedding","x":4.75,"y":0.0572},{"s":"MCS 7 - No Embedding","x":5,"y":0.01137},{"s":"MCS 7 - No Embedding","x":5.25,"y":0.00282},{"s":"MCS 7 - No Embedding","x":5.5,"y":0.00067},
{"s":"PER 0.01 Threshold","y":0.01}
]
},
"layer":[
{"data":{"name":"fam"},
 "mark":{"type":"line","strokeWidth":1,"clip":true},
 "encoding":{
  "x":{"field":"x","type":"quantitative","scale":{"domain":[2.5,5.5],"nice":false,"zero":false},
   "axis":{"orient":"bottom","values":[2.5,3,3.5,4,4.5,5,5.5],"format":"~g","title":"SNR (dB)","grid":false,"domainColor":"#262626","domainWidth":1,"tickColor":"#262626","tickWidth":1,"tickSize":-8,"labelPadding":21,"labelFont":"Liberation Sans","labelFontSize":20,"labelColor":"#262626","labelFlush":false,"labelOverlap":false,"labelBound":false,"titleFont":"Liberation Sans","titleFontSize":22,"titleFontWeight":"normal","titleColor":"#262626","titlePadding":3}},
  "y":{"field":"y","type":"quantitative","scale":{"type":"log","domain":[0.001,1],"nice":false},
   "axis":{"orient":"left","values":[0.001,0.002,0.003,0.004,0.005,0.006,0.007,0.008,0.009,0.01,0.02,0.03,0.04,0.05,0.06,0.07,0.08,0.09,0.1,0.2,0.3,0.4,0.5,0.6,0.7,0.8,0.9,1],
    "labelExpr":"datum.value==1?'10⁰':datum.value==0.1?'10⁻¹':datum.value==0.01?'10⁻²':datum.value==0.001?'10⁻³':''",
    "title":"Packet Error Rate (PER)","grid":false,"domainColor":"#262626","domainWidth":1,"tickColor":"#262626","tickWidth":1,
    "tickSize":{"condition":{"test":"indexof([0.001,0.01,0.1,1],datum.value)>=0","value":-8},"value":-4},
    "labelPadding":19,"labelBaseline":"middle","labelOffset":3,"labelFont":"Liberation Sans","labelFontSize":20,"labelColor":"#262626","labelOverlap":false,"labelBound":false,"labelFlush":false,
    "titleFont":"Liberation Sans","titleFontSize":22,"titleFontWeight":"normal","titleColor":"#262626","titlePadding":0}},
  "stroke":{"field":"k","type":"ordinal","scale":{"range":["#0072BD","#D95319","#EDB120","#7E2F8E","#77AC30","#4DBEEE","#A2142F"]},"legend":null}
 }},
{"data":{"name":"hl"},
 "transform":[{"filter":"datum.s !== 'PER 0.01 Threshold'"}],
 "mark":{"type":"line","strokeWidth":2,"clip":true},
 "encoding":{
  "x":{"field":"x","type":"quantitative","scale":{"domain":[2.5,5.5],"nice":false,"zero":false},
   "axis":{"orient":"top","values":[2.5,3,3.5,4,4.5,5,5.5],"labels":false,"title":null,"grid":false,"domainColor":"#262626","domainWidth":1,"tickColor":"#262626","tickWidth":1,"tickSize":-8}},
  "y":{"field":"y","type":"quantitative","scale":{"type":"log","domain":[0.001,1],"nice":false},"axis":null},
  "color":{"field":"s","type":"nominal","scale":{"domain":["MCS 6 - No Embedding","MCS 7 - No Embedding","PER 0.01 Threshold"],"range":["#62CF22","#000000","#FF0000"]},
   "legend":{"title":null,"orient":"top-right","offset":8,"padding":3,"strokeColor":"#262626","fillColor":"#ffffff","cornerRadius":0,"labelFont":"Liberation Sans","labelFontSize":18,"labelColor":"#000000","labelLimit":400,"symbolSize":306,"symbolStrokeWidth":2,"rowPadding":2,"labelOffset":21,
    "encode":{"symbols":{"update":{"shape":[{"test":"datum.value === 'PER 0.01 Threshold'","value":"M-1,0H3"},{"value":"M-1,0H0.64M1.36,0H3M0.64,0A0.36,0.36,0,1,1,1.36,0A0.36,0.36,0,1,1,0.64,0"}],"fill":{"value":"transparent"},"strokeWidth":{"value":2}}}}}},
  "strokeDash":{"field":"s","type":"nominal","scale":{"domain":["MCS 6 - No Embedding","MCS 7 - No Embedding","PER 0.01 Threshold"],"range":[[1,0],[1,0],[8,5]]}}
 }},
{"data":{"name":"hl"},
 "transform":[{"filter":"datum.s === 'MCS 6 - No Embedding' && datum.y >= 0.001"}],
 "mark":{"type":"point","shape":"circle","filled":false,"size":64,"strokeWidth":1.8,"color":"#62CF22"},
 "encoding":{
  "x":{"field":"x","type":"quantitative","scale":{"domain":[2.5,5.5],"nice":false,"zero":false},"axis":null},
  "y":{"field":"y","type":"quantitative","scale":{"type":"log","domain":[0.001,1],"nice":false},"axis":null}
 }},
{"data":{"name":"hl"},
 "transform":[{"filter":"datum.s === 'MCS 7 - No Embedding' && datum.y >= 0.001"}],
 "mark":{"type":"point","shape":"circle","filled":false,"size":64,"strokeWidth":1.8,"color":"#000000"},
 "encoding":{
  "x":{"field":"x","type":"quantitative","scale":{"domain":[2.5,5.5],"nice":false,"zero":false},"axis":null},
  "y":{"field":"y","type":"quantitative","scale":{"type":"log","domain":[0.001,1],"nice":false},"axis":null}
 }},
{"data":{"name":"hl"},
 "transform":[{"filter":"datum.s === 'PER 0.01 Threshold'"}],
 "mark":{"type":"rule","strokeWidth":2},
 "encoding":{
  "y":{"field":"y","type":"quantitative","scale":{"type":"log","domain":[0.001,1],"nice":false},
   "axis":{"orient":"right","values":[0.001,0.002,0.003,0.004,0.005,0.006,0.007,0.008,0.009,0.01,0.02,0.03,0.04,0.05,0.06,0.07,0.08,0.09,0.1,0.2,0.3,0.4,0.5,0.6,0.7,0.8,0.9,1],"labels":false,"title":null,"grid":false,"domainColor":"#262626","domainWidth":1,"tickColor":"#262626","tickWidth":1,
    "tickSize":{"condition":{"test":"indexof([0.001,0.01,0.1,1],datum.value)>=0","value":-8},"value":-4}}},
  "color":{"field":"s","type":"nominal","scale":{"domain":["MCS 6 - No Embedding","MCS 7 - No Embedding","PER 0.01 Threshold"],"range":["#62CF22","#000000","#FF0000"]}},
  "strokeDash":{"field":"s","type":"nominal","scale":{"domain":["MCS 6 - No Embedding","MCS 7 - No Embedding","PER 0.01 Threshold"],"range":[[1,0],[1,0],[8,5]]}}
 }}
]
}
